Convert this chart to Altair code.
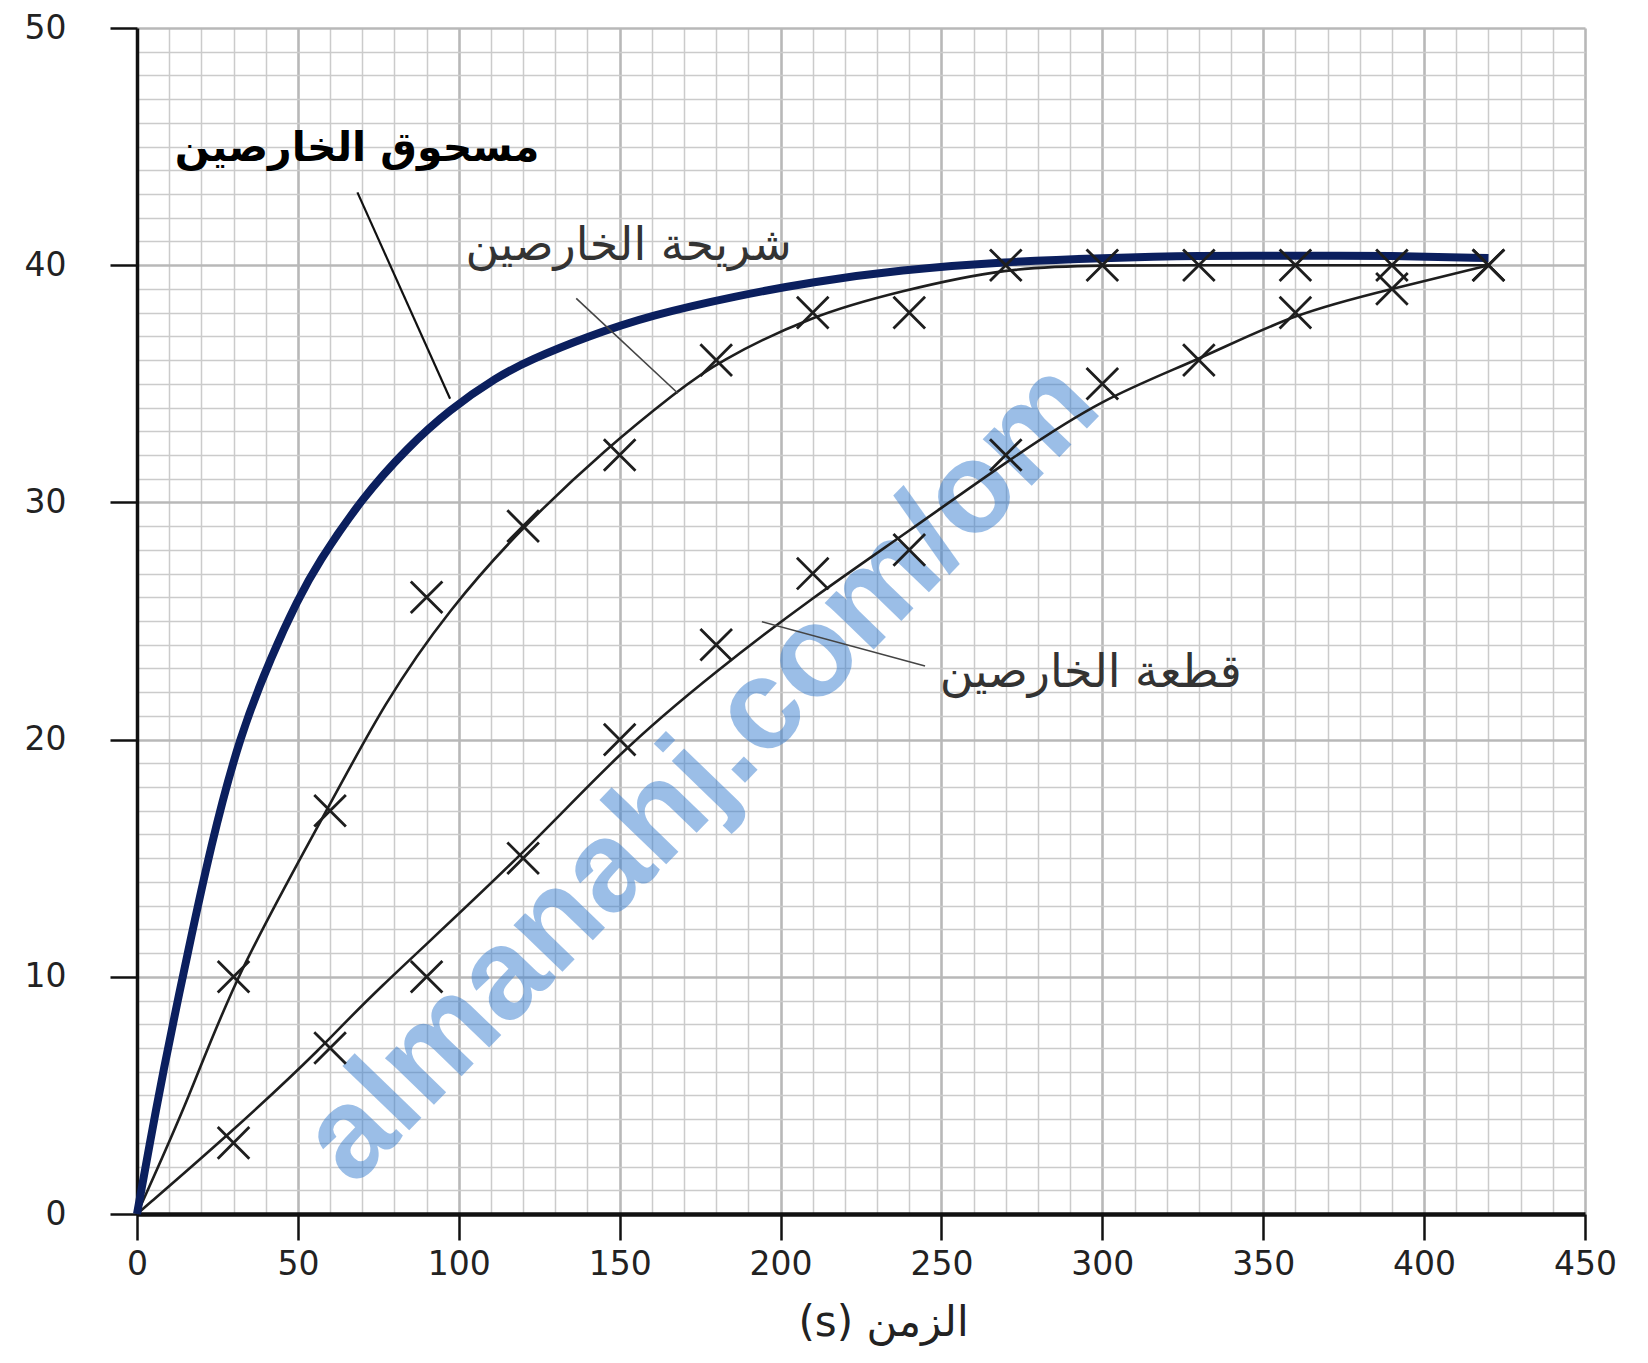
import altair as alt
import pandas as pd

# ---------------- data ----------------
# measured points (x markers)
slab_t = [30, 60, 90, 120, 150, 180, 210, 240, 270, 300, 330, 360, 390, 420]
slab_v = [10, 17, 26, 29, 32, 36, 38, 38, 40, 40, 40, 40, 40, 40]
piece_t = [30, 60, 90, 120, 150, 180, 210, 240, 270, 300, 330, 360, 390, 420]
piece_v = [3, 7, 10, 15, 20, 24, 27, 28, 32, 35, 36, 38, 39, 40]

# fitted curves
slab_curve_t = [0, 16.6, 30, 59, 77, 97, 120, 146, 168, 180, 210, 237, 270, 300, 330, 360, 390, 420]
slab_curve_v = [0, 5.0, 9.9, 17.0, 21.6, 25.5, 29.0, 32.3, 34.7, 35.9, 37.9, 38.9, 39.9, 40, 40, 40, 40, 40]
piece_curve_t = [0, 29, 59, 70, 119, 150, 180, 210, 240, 270, 300, 330, 360, 390, 420]
piece_curve_v = [0, 3.4, 7.2, 8.9, 15.0, 19.5, 22.9, 26.0, 28.8, 31.7, 34.4, 36.0, 38.0, 39.0, 40.0]
powder_curve_t = [0, 4, 8, 12.5, 15, 23, 32, 42, 50, 56, 70, 84, 97, 112, 122, 140, 160, 186, 210, 237, 270, 300, 330, 360, 390, 420]
powder_curve_v = [0, 3, 5.9, 8.9, 10.5, 15.6, 20.2, 23.6, 25.9, 27.4, 30.2, 32.3, 33.9, 35.3, 36.0, 37.0, 37.9, 38.7, 39.3, 39.8, 40.15, 40.3, 40.4, 40.4, 40.4, 40.3]

# annotations
powder_label = ["مسحوق الخارصين"]
powder_label_x = [68.4]
powder_label_y = [44.9]
other_labels = ["شريحة الخارصين", "قطعة الخارصين"]
other_labels_x = [152.8, 296.4]
other_labels_y = [40.8, 22.8]

powder_leader = {"x": [68.5], "y": [43.07], "x2": [97.3], "y2": [34.37]}
other_leaders = {"x": [136.5, 194.2], "y": [38.6, 24.97], "x2": [168.1, 244.9], "y2": [34.6, 23.1]}

watermark = ["almanahj.com/om"]
watermark_x = [175.5]
watermark_y = [18.6]

# axis values
x_ticks = [0, 50, 100, 150, 200, 250, 300, 350, 400, 450]
y_ticks = [0, 10, 20, 30, 40, 50]
x_grid = list(range(0, 451, 10))
y_grid = list(range(0, 51, 1))
x_title = "(s) الزمن"

# ---------------- frames ----------------
pts = pd.DataFrame({"t": slab_t + piece_t, "v": slab_v + piece_v})
slab_curve = pd.DataFrame({"t": slab_curve_t, "v": slab_curve_v})
piece_curve = pd.DataFrame({"t": piece_curve_t, "v": piece_curve_v})
powder_curve = pd.DataFrame({"t": powder_curve_t, "v": powder_curve_v})
powder_lab = pd.DataFrame({"t": powder_label_x, "v": powder_label_y, "txt": powder_label})
other_lab = pd.DataFrame({"t": other_labels_x, "v": other_labels_y, "txt": other_labels})
pl = pd.DataFrame(powder_leader)
ol = pd.DataFrame(other_leaders)
wm = pd.DataFrame({"t": watermark_x, "v": watermark_y, "txt": watermark})

LABEL_FONT = "DejaVu Sans"
AR_FONT = "DejaVu Sans"

sx = alt.Scale(domain=[0, 450], nice=False, zero=False)
sy = alt.Scale(domain=[0, 50], nice=False, zero=False)

ax_x = alt.Axis(
    values=x_grid,
    labelExpr="datum.value % 50 === 0 ? datum.label : ''",
    labelOverlap=False,
    labelFont=LABEL_FONT, labelFontSize=33, labelColor="#222222",
    labelPadding=8, labelFlush=False,
    tickSize=26, tickWidth=2.5, tickColor="#111111",
    tickOpacity={"condition": {"test": "datum.value % 50 === 0", "value": 1}, "value": 0},
    grid=True,
    gridColor={"condition": {"test": "datum.value % 50 === 0", "value": "#b8b8b8"}, "value": "#cbcbcb"},
    gridWidth={"condition": {"test": "datum.value % 50 === 0", "value": 2.6}, "value": 1.5},
    domainColor="#111111", domainWidth=4.5,
    title=x_title, titleFont=AR_FONT, titleFontSize=42, titleFontWeight="normal",
    titleColor="#222222", titleX=746, titleY=108, titleBaseline="middle",
)
ax_y = alt.Axis(
    values=y_grid,
    labelExpr="datum.value % 10 === 0 ? datum.label : ''",
    labelOverlap=False,
    labelFont=LABEL_FONT, labelFontSize=33, labelColor="#222222",
    labelPadding=44, labelFlush=False,
    tickSize=27, tickWidth=2.5, tickColor="#111111",
    tickOpacity={"condition": {"test": "datum.value % 10 === 0", "value": 1}, "value": 0},
    grid=True,
    gridColor={"condition": {"test": "datum.value % 10 === 0", "value": "#b8b8b8"}, "value": "#cbcbcb"},
    gridWidth={"condition": {"test": "datum.value % 10 === 0", "value": 2.6}, "value": 1.5},
    domainColor="#111111", domainWidth=3.5,
    title=None,
)


def X(field="t"):
    return alt.X(f"{field}:Q", scale=sx, axis=ax_x)


def Y(field="v"):
    return alt.Y(f"{field}:Q", scale=sy, axis=ax_y)


wm_layer = alt.Chart(wm).mark_text(
    font="Liberation Sans", fontWeight="bold", fontSize=128, angle=314,
    color="#3a7fd0", opacity=0.5, align="center", baseline="middle",
).encode(x=X(), y=Y(), text="txt:N")

slab_line = alt.Chart(slab_curve).mark_line(
    interpolate="basis", color="#1e1e1e", strokeWidth=2.6
).encode(x=X(), y=Y())
piece_line = alt.Chart(piece_curve).mark_line(
    interpolate="basis", color="#1e1e1e", strokeWidth=2.6
).encode(x=X(), y=Y())
powder_line = alt.Chart(powder_curve).mark_line(
    interpolate="basis", color="#0b1f5e", strokeWidth=8, strokeCap="butt"
).encode(x=X(), y=Y())

markers = alt.Chart(pts).mark_point(
    shape="M-1,-1L1,1M-1,1L1,-1", size=1000, filled=False,
    stroke="#1e1e1e", strokeWidth=2.8, opacity=1,
).encode(x=X(), y=Y())

powder_lead = alt.Chart(pl).mark_rule(color="#111111", strokeWidth=2.2).encode(
    x=X("x"), y=Y("y"), x2="x2:Q", y2="y2:Q"
)
other_lead = alt.Chart(ol).mark_rule(color="#444444", strokeWidth=1.6).encode(
    x=X("x"), y=Y("y"), x2="x2:Q", y2="y2:Q"
)

powder_text = alt.Chart(powder_lab).mark_text(
    font=AR_FONT, fontWeight="bold", fontSize=41, color="#000000",
    align="center", baseline="middle",
).encode(x=X(), y=Y(), text="txt:N")
other_text = alt.Chart(other_lab).mark_text(
    font=AR_FONT, fontSize=46, color="#333333",
    align="center", baseline="middle",
).encode(x=X(), y=Y(), text="txt:N")

chart = alt.layer(
    wm_layer, slab_line, piece_line, powder_line, markers,
    powder_lead, other_lead, powder_text, other_text,
).properties(
    width=1448, height=1186,
    padding={"left": 129, "top": 20, "right": 50, "bottom": 145},
    autosize=alt.AutoSizeParams(type="none"),
    background="white",
).configure_view(stroke=None)

chart.save("out.html", embed_options={"renderer": "svg", "actions": False})
